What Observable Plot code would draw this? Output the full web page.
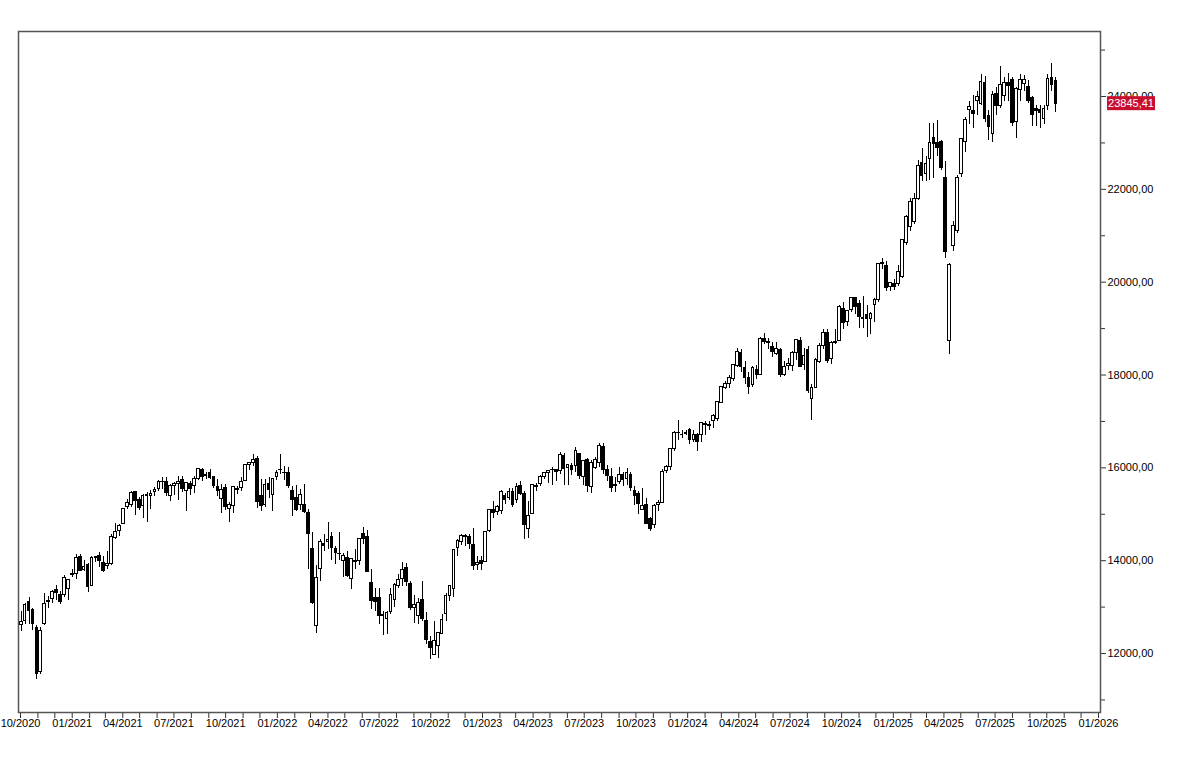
<!DOCTYPE html>
<html>
<head>
<meta charset="utf-8">
<script src="https://cdn.jsdelivr.net/npm/d3@7"></script>
<script src="https://cdn.jsdelivr.net/npm/@observablehq/plot@0.6"></script>
<style>
  html, body { margin: 0; padding: 0; background: #fff; }
  #chart svg { display: block; }
</style>
</head>
<body>
<div id="chart"></div>
<script>
// Weekly candles (week starting Monday), first week 2020-09-21
const firstWeek = "2020-09-21";
const open = [
13100,12620,12700,13100,12930,12560,11600,12640,13100,13170,13360,13260,13260,13400,13700,
13720,14070,13800,13900,13450,14090,14100,13960,13890,13930,14480,14650,14800,15150,15210,15480,15300,15170,15390,15400,15470,15550,15700,15700,15400,15600,15660,15730,15500,15660,15600,15770,15950,15830,15880,15800,15590,15320,15560,15120,15180,15530,15560,15720,16070,16100,16200,15400,15200,15650,15420,15800,
15950,15900,15900,15500,15350,15200,15200,15030,14260,12600,13830,14350,14400,14500,14250,14150,14000,14050,13600,14000,14000,14580,14500,13530,13200,13200,12800,12750,12900,13150,13450,13600,13850,13500,12980,12800,13160,12700,12240,11960,12170,12430,12860,13250,13400,14280,14400,14500,14500,14330,13900,14000,
13980,14650,15100,15050,15080,15400,15350,15480,15300,15600,15445,14690,15000,15600,15650,15800,15880,15960,15950,15940,16250,15990,16050,16050,16300,15800,16160,15580,16000,16110,16450,15950,15810,15600,15700,15850,15750,15850,15510,15445,15100,15210,14900,14760,15200,15250,15930,16010,16400,16750,16700,16720,
16825,16590,16700,16700,16950,16900,17000,17060,17400,17720,17800,17920,18200,18480,18160,17940,17780,18100,17990,18780,18720,18600,18460,18540,17990,18200,18200,18480,18740,18210,18540,17490,17730,18270,18620,18900,18350,18700,18740,19430,19150,19390,19650,19540,19220,19300,19200,19500,19610,20400,20350,19900,19950,
19960,20110,20840,21180,21300,21790,22560,22320,22650,23100,23000,23030,22240,18730,20770,21100,22320,23010,23700,23680,23900,23830,24300,23570,23200,24060,23790,24000,24300,24360,23460,24150,24260,24215,23957,23720,23710,23505,23785,24400,24330
];
const high = [
13130,12900,13070,13200,12980,12600,12560,13297,13220,13360,13460,13340,13690,13600,13800,
14130,14130,14000,13950,14080,14100,14170,14080,14200,14570,14800,14790,15130,15310,15500,15500,15370,15420,15460,15520,15570,15730,15800,15800,15640,15690,15810,15810,15690,15710,15810,15980,15990,15900,15970,15810,15740,15650,15650,15260,15600,15600,15800,16060,16120,16290,16250,15740,15740,15800,15760,15950,
16285,16040,16010,15600,15630,15540,15650,15100,14600,13900,14450,14560,14820,14600,14300,14600,14150,14200,14050,14250,14480,14720,14650,13800,13400,13400,12900,12900,13400,13500,13700,13970,13950,13550,13260,13180,13560,12880,12360,12700,12460,12850,13300,13470,14230,14450,14560,14560,14560,14690,14100,14100,
14630,15090,15270,15180,15520,15450,15560,15550,15660,15710,15500,15280,15650,15660,15830,15900,15950,16000,15970,16330,16300,16070,16100,16430,16310,16160,16200,16160,16230,16530,16530,16060,15990,15800,16000,15890,15990,15900,15600,15500,15550,15350,14940,15200,15300,15970,16050,16420,16780,17010,16800,16800,
16840,16800,16750,16970,17000,17000,17150,17440,17740,17870,18000,18220,18570,18550,18300,18050,18190,18200,18800,18890,18790,18700,18700,18580,18300,18350,18500,18760,18800,18570,18620,17800,18350,18670,18990,18990,18730,18990,19500,19560,19400,19680,19680,19600,19700,19500,19350,19650,20410,20520,20440,20000,20050,
20350,20920,21430,21800,21900,22620,22880,22700,23420,23420,23476,23060,22600,20400,21300,22300,23100,23550,23900,24030,24100,24480,24420,23700,24100,24200,24639,24400,24500,24400,24200,24480,24450,24350,24000,23800,23800,23800,24470,24709,24400
];
const low = [
12340,12480,12620,12620,12500,11450,11550,12600,12970,13080,13150,13050,13200,13140,13640,
13590,13780,13770,13310,13440,13960,13860,13740,13820,13900,14450,14530,14790,15110,15150,14980,15080,14900,14820,15100,15380,15490,15540,15390,15280,15400,15300,15470,15060,15400,15450,15720,15700,15760,15740,15550,15380,15020,15080,14820,15020,15420,15500,15700,15950,16030,15130,15050,15150,15330,15060,15730,
15850,15730,15550,14950,15070,15090,15020,13800,13050,12439,13560,14200,14250,14000,13910,14000,13630,13630,13380,13800,13900,14350,13750,12950,12900,12620,12390,12400,12850,13000,13400,13450,13450,12930,12640,12630,12700,12200,11863,11950,11900,12400,12700,13120,13200,14100,14320,14300,14250,13790,13790,13790,
13980,14600,14900,14970,15000,15200,15300,15150,15230,15400,14460,14475,15000,15480,15600,15740,15660,15630,15700,15850,15630,15630,15840,15900,15750,15620,15460,15450,15970,16000,15850,15700,15460,15470,15650,15600,15630,15500,15180,15000,15080,14780,14630,14700,15060,15240,15870,15950,16350,16600,16630,16700,
16500,16540,16350,16550,16700,16800,16850,17000,17380,17680,17700,17850,18170,18050,17800,17590,17730,17900,17980,18650,18550,18370,18410,17950,17970,18100,18080,18310,18170,18100,17600,17024,17700,18250,18560,18250,18230,18660,18740,18980,19050,19350,19300,19000,19000,18800,18880,19130,19570,20280,19800,19800,19820,
19900,20080,20800,21100,21250,21770,22160,22170,22200,22240,22700,22400,20500,18450,20660,21050,22250,22800,23400,23300,23600,23800,23450,23050,23000,23600,23750,23900,23900,23350,23100,23900,24100,23850,23350,23350,23300,23400,23700,24100,23650
];
const close = [
12469,12689,13051,12909,12646,11556,12480,13076,13137,13335,13298,13114,13631,13587,13719,
14049,13787,13873,13433,14056,14050,13993,13786,13920,14502,14621,14749,15107,15234,15460,15280,15136,15400,15417,15438,15520,15693,15693,15448,15608,15650,15688,15540,15669,15544,15761,15977,15808,15852,15781,15609,15491,15532,15156,15206,15587,15543,15688,16054,16094,16160,15257,15170,15623,15531,15756,15885,
15948,15883,15603,15318,15100,15425,15042,14567,13094,13628,14413,14306,14446,14284,14164,14142,14098,13674,14027,13982,14463,14460,13762,13127,13118,12813,12834,12865,13254,13484,13574,13795,13544,12972,13050,13088,12741,12284,12114,12273,12438,12731,13243,13460,14225,14431,14541,14529,14370,13894,13941,13924,
14610,15087,15033,15150,15476,15308,15482,15210,15578,15428,14768,14957,15629,15598,15808,15882,15922,15961,15914,16275,15984,16051,15950,16358,15830,16148,15603,16105,16177,16469,15952,15832,15574,15632,15840,15740,15893,15557,15387,15230,15187,14798,14688,15189,15234,15919,16029,16398,16759,16751,16706,16752,
16594,16705,16555,16961,16918,16926,17117,17419,17735,17815,17937,18206,18492,18175,17930,17737,18161,18002,18773,18704,18693,18498,18557,18002,18164,18235,18475,18748,18171,18418,17661,17723,18322,18633,18907,18302,18699,18720,19474,19121,19374,19657,19464,19255,19215,19211,19323,19626,20385,20406,19885,19985,19906,
20215,20903,21395,21732,21787,22513,22288,22551,22990,22987,22892,22461,20642,20374,21206,22242,23087,23499,23767,23630,23997,24304,23516,23350,24033,23787,24255,24290,24218,23426,24163,24359,24363,23902,23597,23698,23639,23739,24378,24241,23845.41
];
// Right-axis labelled ticks and minor ticks
const yLabelTicks = [12000, 14000, 16000, 18000, 20000, 22000, 24000];
const yMinorTicks = [11000, 13000, 15000, 17000, 19000, 21000, 23000, 25000];

const start = new Date(firstWeek + "T00:00:00Z");
const candles = close.map((c, i) => {
  const monday = d3.utcMonday.offset(start, i);
  return {
    mid: d3.utcHour.offset(monday, 100),
    left: d3.utcHour.offset(monday, 100 - 58),
    right: d3.utcHour.offset(monday, 100 + 58),
    open: open[i], high: high[i], low: low[i], close: c
  };
});
const last = candles[candles.length - 1];
const fmt = v => d3.format(".2f")(v).replace(".", ",");

const W = 1185, H = 761, mL = 18, mR = 85, mT = 31, mB = 49;

const chart = Plot.plot({
  width: W, height: H,
  marginLeft: mL, marginRight: mR, marginTop: mT, marginBottom: mB,
  style: {fontFamily: "'Liberation Sans', Arial, sans-serif", fontSize: "11px", color: "#000", background: "#fff", overflow: "visible"},
  x: {type: "utc", domain: [new Date("2020-09-27T10:00:00Z"), new Date("2026-01-04T14:00:00Z")]},
  y: {domain: [10730, 25400]},
  marks: [
    Plot.axisX({ticks: d3.utcMonth, tickSize: 6, tickPadding: 1, stroke: "#333",
      tickFormat: d => d.getUTCMonth() % 3 === 0 ? d3.utcFormat("%m/%Y")(d) : "", label: null}),
    Plot.axisY({anchor: "right", ticks: yLabelTicks, tickSize: 5, tickPadding: 2, stroke: "#333", tickFormat: fmt, label: null}),
    Plot.axisY({anchor: "right", ticks: yMinorTicks, tickSize: 4, stroke: "#333", tickFormat: () => "", label: null}),
    Plot.ruleX(candles, {x: "mid", y1: "low", y2: "high", stroke: "#000", strokeWidth: 1, shapeRendering: "crispEdges", clip: true}),
    Plot.rect(candles, {x1: "left", x2: "right", y1: "open", y2: "close",
      fill: d => d.close >= d.open ? "#fff" : "#000", stroke: "#000", strokeWidth: 1, shapeRendering: "crispEdges", clip: true}),
    Plot.frame({stroke: "#555", strokeWidth: 1.5})
  ]
});

// last price marker on the right axis
const ySc = chart.scale("y");
const yy = ySc.apply(last.close);
const g = d3.select(chart).append("g");
const bx = W - mR + 7;
g.append("rect").attr("x", bx).attr("y", yy - 7).attr("width", 48).attr("height", 14).attr("fill", "#c8102e");
g.append("text").attr("x", bx + 24).attr("y", yy + 4).attr("fill", "#fff")
  .attr("text-anchor", "middle")
  .attr("font-family", "'Liberation Sans', Arial, sans-serif").attr("font-size", "11px")
  .text(fmt(last.close));

document.getElementById("chart").appendChild(chart);
</script>
</body>
</html>
